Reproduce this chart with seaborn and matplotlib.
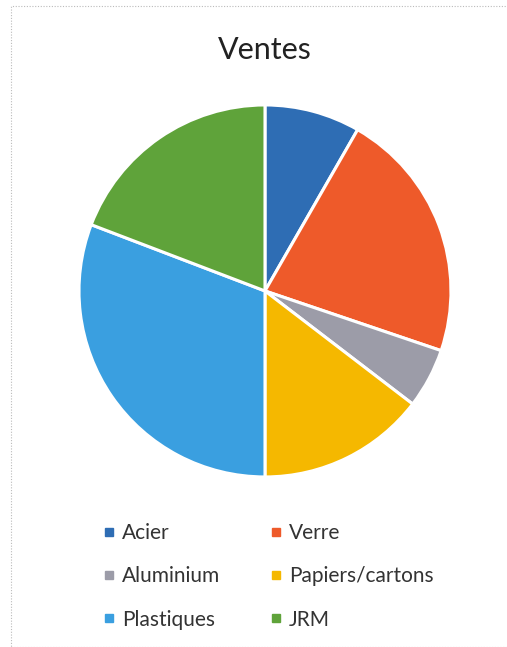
import matplotlib
matplotlib.use("Agg")
import matplotlib.pyplot as plt
import seaborn as sns
from matplotlib.patches import Rectangle
from matplotlib.lines import Line2D

# data (percent)
categories = ["Acier", "Verre", "Aluminium", "Papiers/cartons", "Plastiques", "JRM"]
values = [8.3, 21.9, 5.2, 14.6, 30.8, 19.2]
colors = ["#2E6DB4", "#EE5A2A", "#9C9CA8", "#F5B800", "#3A9FE0", "#5FA33A"]

sns.set_theme(style="white")
plt.rcParams["font.family"] = ["Lato", "DejaVu Sans"]

fig = plt.figure(figsize=(5.07, 6.47), dpi=100)
fig.patch.set_facecolor("white")

# dotted frame of the chart area
fig.add_artist(Rectangle((11 / 507, 0.0), 1.0, 1 - 6 / 647, transform=fig.transFigure,
                         fill=False, edgecolor="#BBBBBB", linestyle=(0, (1, 1.5)), linewidth=0.8))

ax = fig.add_axes([0.1558, 0.2628, 0.7337, 0.575])
ax.pie(values, colors=sns.color_palette(colors), startangle=90, counterclock=False,
       wedgeprops=dict(edgecolor="white", linewidth=2.2))
ax.set_xlim(-1, 1)
ax.set_ylim(-1, 1)
ax.set_aspect("equal")

fig.text(0.522, 1 - 50 / 647, "Ventes", ha="center", va="center", fontsize=22, color="#222222")

# legend is filled row by row in the chart -> reorder for column-first filling
order = [0, 2, 4, 1, 3, 5]
handles = [Line2D([0], [0], marker="s", linestyle="", markersize=5.5,
                  markerfacecolor=colors[i], markeredgecolor=colors[i]) for i in order]
labels = [categories[i] for i in order]
fig.legend(handles, labels, ncol=2, loc="upper left",
           bbox_to_anchor=(103 / 507, 1 - 523 / 647), frameon=False, fontsize=15,
           handletextpad=0.3, columnspacing=2.4, labelspacing=1.12, handlelength=0.6,
           borderpad=0, borderaxespad=0, labelcolor="#333333")

fig.savefig("out.png", dpi=100, facecolor="white")
